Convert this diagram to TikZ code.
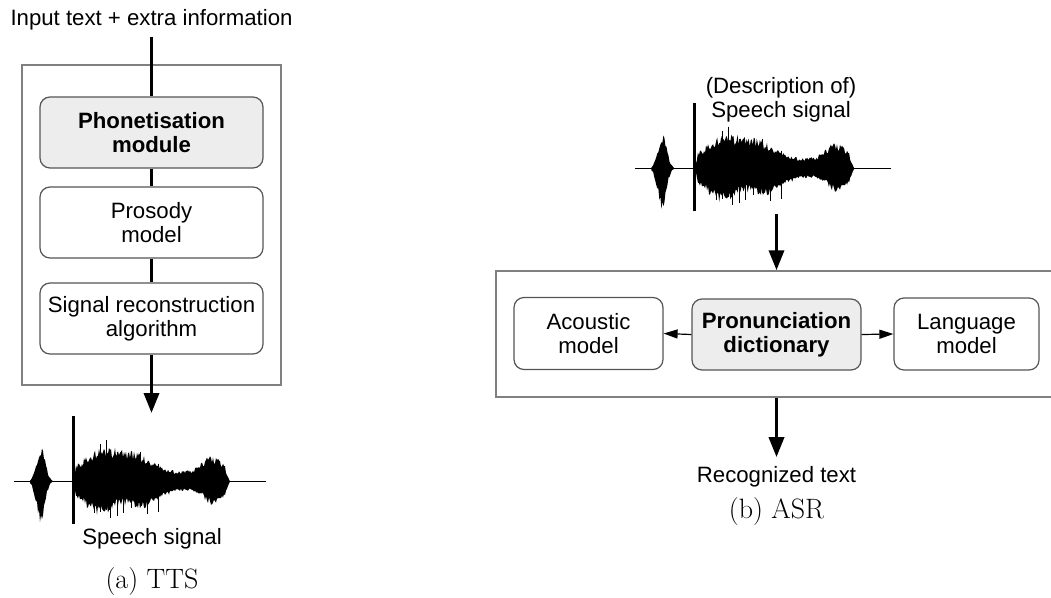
\documentclass[tikz,border=0pt]{standalone}
\usepackage{fontspec}
\newfontfamily\arialf{Liberation Sans}
\usetikzlibrary{arrows.meta}
\definecolor{boxgray}{HTML}{EDEDED}
\definecolor{edgegray}{HTML}{555555}
\definecolor{framegray}{HTML}{808080}
\pgfmathdeclarefunction{wU}{1}{%
  \pgfmathparse{(9+20*exp(-((#1-90)/25)*((#1-90)/25))+12*exp(-((#1-125)/20)*((#1-125)/20))+13*exp(-((#1-198)/13)*((#1-198)/13)))*min(1,(#1-59)/3)*min(1,(216-#1)/5)}}
\pgfmathdeclarefunction{wL}{1}{%
  \pgfmathparse{(8+20*exp(-((#1-85)/20)*((#1-85)/20))+15*exp(-((#1-128)/22)*((#1-128)/22))+13*exp(-((#1-200)/12)*((#1-200)/12)))*min(1,(#1-59)/3)*min(1,(216-#1)/5)}}
\pgfmathdeclarefunction{bU}{1}{%
  \pgfmathparse{32*exp(-((#1-27)/6)*((#1-27)/6))}}
\pgfmathdeclarefunction{bL}{1}{%
  \pgfmathparse{36*exp(-((#1-26.5)/6)*((#1-26.5)/6))}}
\tikzset{
  lbl/.style={font=\arialf\fontsize{22.2}{24}\selectfont, align=center, inner sep=0pt},
  module/.style={lbl, draw=edgegray, line width=1.2pt, rounded corners=10pt, fill=white, minimum height=71pt},
  keymodule/.style={module, fill=boxgray, font=\arialf\bfseries\fontsize{22.2}{24}\selectfont},
  frame/.style={draw=framegray, line width=1.5pt, inner sep=0pt},
  flow/.style={line width=3.5pt},
  flowarrow/.style={line width=3.5pt, -{Triangle[length=20pt,width=15pt]}},
  thinarrow/.style={line width=1.2pt, -{Triangle[length=14pt,width=9pt]}},
  caption/.style={font=\fontsize{28}{32}\selectfont, inner sep=0pt},
  wave/.pic={
    \pgfmathsetseed{7}
    \draw[line width=1.6pt] (0,0) -- (252,0);
    \fill (16,0) \foreach \x in {16,...,38}{ -- (\x,{-bU(\x)*(0.75+0.4*rnd)}) } -- (39,0)
      \foreach \x in {38,37,...,16}{ -- (\x,{bL(\x)*(0.75+0.4*rnd)}) } -- cycle;
    \fill (57.5,-66) rectangle (60.5,42);
    \fill (59,0) \foreach \x in {60,...,214}{ -- (\x,{-wU(\x)*(0.8+0.4*rnd)}) } -- (216,0)
      \foreach \x in {214,213,...,60}{ -- (\x,{wL(\x)*(0.8+0.4*rnd)}) } -- cycle;
    \foreach \a/\b/\c in {86/38/30, 92/42/28, 96/24/36, 103/30/34, 117/27/26, 126/30/24, 133/20/32, 144/18/30, 109/24/31, 80/28/31}
      { \draw[line width=1pt] (\a,-\b) -- (\a,\c); }
  }
}
\begin{document}
\begin{tikzpicture}[x=1pt,y=-1pt]
\useasboundingbox (0,0) rectangle (1051,597);
\clip (0,0) rectangle (1051,597);
% ---------- (a) TTS ----------
\node[frame, minimum width=259pt, minimum height=320pt] (ttsbox) at (151.5,225) {};
\node[lbl, outer sep=6.6pt] (ttsin) at (151.5,20) {Input text + extra information};
\node[keymodule, minimum width=223pt] (phon) at (151.5,132.5) {Phonetisation\\module};
\node[module, minimum width=223pt] (pros) at (151.5,222.5) {Prosody\\model};
\node[module, minimum width=223pt] (sig) at (151.5,318.5) {Signal reconstruction\\algorithm};
\pic at (14,481.5) {wave};
\coordinate (ttswavetop) at (151.5,413);
\node[lbl] (ttsout) at (152,539) {Speech signal};
\node[caption] (capa) at (152,582) {(a) TTS};
\draw[flow] (ttsin.south) -- (phon.north);
\draw[flow] (phon.south) -- (pros.north);
\draw[flow] (pros.south) -- (sig.north);
\draw[flowarrow] (sig.south) -- (ttswavetop);
% ---------- (b) ASR ----------
\node[lbl] (asrin) at (781,99.5) {(Description of)\\Speech signal};
\pic[xscale=1.015] at (635,168.5) {wave};
\coordinate (asrwavebot) at (776.5,214);
\node[frame, minimum width=561pt, minimum height=126pt] (asrbox) at (776.5,334) {};
\node[module, minimum width=149pt, minimum height=72pt] (acou) at (588.5,333.5) {Acoustic\\model};
\node[keymodule, minimum width=169pt] (pron) at (776.5,334.5) {Pronunciation\\dictionary};
\node[module, minimum width=145pt, minimum height=72pt] (lang) at (966.5,334) {Language\\model};
\node[lbl, outer sep=9.5pt] (asrout) at (776.5,477) {Recognized text};
\node[caption] (capb) at (776.5,512) {(b) ASR};
\draw[flowarrow] (asrwavebot) -- (asrbox.north);
\draw[flowarrow] (asrbox.south) -- (asrout.north);
\draw[thinarrow] (pron.west) -- (acou.east);
\draw[thinarrow] (pron.east) -- (lang.west);
\end{tikzpicture}
\end{document}
